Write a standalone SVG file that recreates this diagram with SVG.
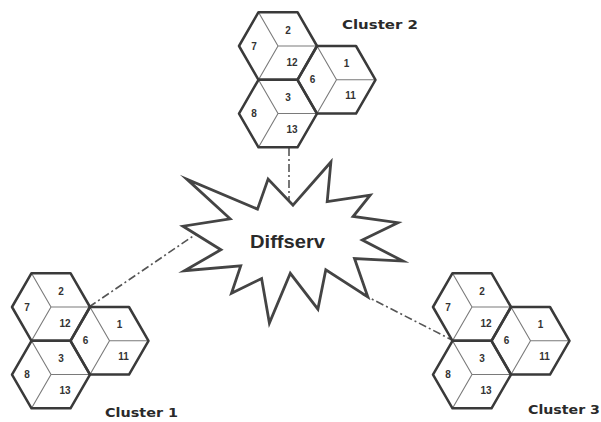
<svg xmlns="http://www.w3.org/2000/svg" xmlns:xlink="http://www.w3.org/1999/xlink" width="601" height="422" viewBox="0 0 601 422">
<style>
.inner{stroke:#7a7a7a;stroke-width:1.1;fill:none}
.outline{stroke:#3a3a3a;stroke-width:2.5;fill:none;stroke-linejoin:round}
.num{font-family:"Liberation Sans",Arial,sans-serif;font-size:10px;font-weight:bold;fill:#333;text-anchor:middle}
.clabel{font-family:"DejaVu Sans","Liberation Sans",sans-serif;font-size:13px;font-weight:bold;fill:#2a2a2a}
.conn{stroke:#555;stroke-width:1.6;fill:none;stroke-dasharray:8 3 2 3}
.star{fill:#fff;stroke:#444;stroke-width:2.8;stroke-linejoin:miter;stroke-miterlimit:10}
.starlabel{font-family:"Liberation Sans",Arial,sans-serif;font-size:18px;font-weight:bold;fill:#2a2a2a}
</style>
<defs>
<g id="hexInner">
<path class="inner" d="M-19.5,-33.77 L0,0 L39,0 M0,0 L-19.5,33.77"/>
</g>
<path id="hexOutline" class="outline" d="M-39,0 L-19.5,-33.77 L19.5,-33.77 L39,0 L19.5,33.77 L-19.5,33.77 Z"/>
<g id="clusterShape">
<use xlink:href="#hexInner"/>
<use xlink:href="#hexInner" transform="translate(58.5,33.77)"/>
<use xlink:href="#hexInner" transform="translate(0,67.55)"/>
<use xlink:href="#hexOutline"/>
<use xlink:href="#hexOutline" transform="translate(58.5,33.77)"/>
<use xlink:href="#hexOutline" transform="translate(0,67.55)"/>
</g>
</defs>
<rect width="601" height="422" fill="#fff"/>
<g id="connectors">
<line class="conn" x1="289" y1="148" x2="289" y2="212"/>
<line class="conn" x1="89" y1="307" x2="205" y2="228"/>
<line class="conn" x1="362" y1="294" x2="452" y2="340"/>
</g>
<g id="diffserv">
<path class="star" d="M293,205.2 L330.9,162 L327.2,201.7 L370.2,195.2 L353.1,216.5 L397.9,222.7 L362.3,240.1 L403,261.1 L354.5,258.5 L367.8,296.9 L325.8,269.8 L317.9,309.1 L290.3,273.3 L269.4,323 L261.6,278.5 L231.5,293.3 L240.7,265.9 L184.4,270.7 L220.9,249.8 L183,226.2 L230.1,218.8 L186.8,179.1 L257.5,209.1 L268.1,179.1 Z"/>
<text class="starlabel" x="250" y="248" textLength="75" lengthAdjust="spacingAndGlyphs">Diffserv</text>
</g>
<g id="cluster1">
<g transform="translate(51,307)">
<use xlink:href="#clusterShape"/>
<text class="num" x="-24" y="3.5">7</text>
<text class="num" x="10" y="-12.5">2</text>
<text class="num" x="14" y="19.5">12</text>
<g transform="translate(58.5,33.77)">
<text class="num" x="-24" y="3.5">6</text>
<text class="num" x="10" y="-12.5">1</text>
<text class="num" x="14" y="19.5">11</text>
</g>
<g transform="translate(0,67.55)">
<text class="num" x="-24" y="3.5">8</text>
<text class="num" x="10" y="-12.5">3</text>
<text class="num" x="14" y="19.5">13</text>
</g>
</g>
<text class="clabel" x="105" y="417" textLength="73" lengthAdjust="spacingAndGlyphs">Cluster 1</text>
</g>
<g id="cluster2">
<g transform="translate(278,46)">
<use xlink:href="#clusterShape"/>
<text class="num" x="-24" y="3.5">7</text>
<text class="num" x="10" y="-12.5">2</text>
<text class="num" x="14" y="19.5">12</text>
<g transform="translate(58.5,33.77)">
<text class="num" x="-24" y="3.5">6</text>
<text class="num" x="10" y="-12.5">1</text>
<text class="num" x="14" y="19.5">11</text>
</g>
<g transform="translate(0,67.55)">
<text class="num" x="-24" y="3.5">8</text>
<text class="num" x="10" y="-12.5">3</text>
<text class="num" x="14" y="19.5">13</text>
</g>
</g>
<text class="clabel" x="342" y="29" textLength="76" lengthAdjust="spacingAndGlyphs">Cluster 2</text>
</g>
<g id="cluster3">
<g transform="translate(472,307)">
<use xlink:href="#clusterShape"/>
<text class="num" x="-24" y="3.5">7</text>
<text class="num" x="10" y="-12.5">2</text>
<text class="num" x="14" y="19.5">12</text>
<g transform="translate(58.5,33.77)">
<text class="num" x="-24" y="3.5">6</text>
<text class="num" x="10" y="-12.5">1</text>
<text class="num" x="14" y="19.5">11</text>
</g>
<g transform="translate(0,67.55)">
<text class="num" x="-24" y="3.5">8</text>
<text class="num" x="10" y="-12.5">3</text>
<text class="num" x="14" y="19.5">13</text>
</g>
</g>
<text class="clabel" x="528" y="414" textLength="72" lengthAdjust="spacingAndGlyphs">Cluster 3</text>
</g>
</svg>
